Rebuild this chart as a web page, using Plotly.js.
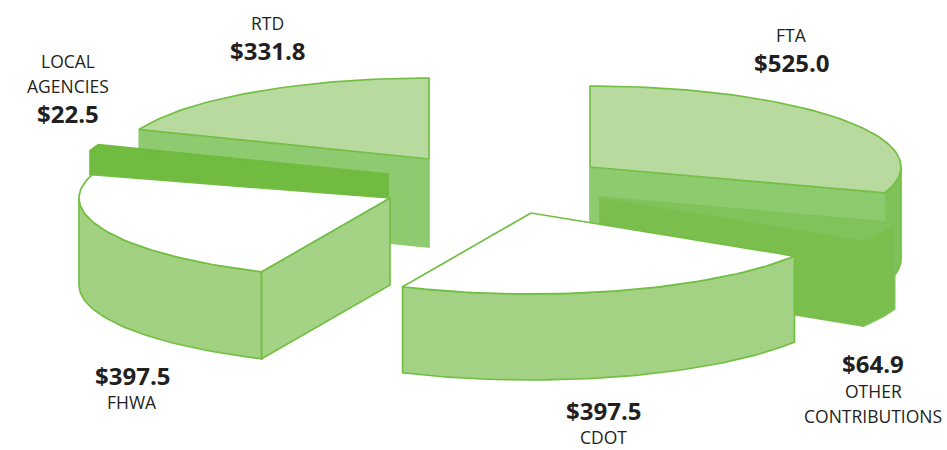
<!DOCTYPE html>
<html>
<head>
<meta charset="utf-8">
<script src="https://cdn.plot.ly/plotly-3.0.1.min.js"></script>
<style>html,body{margin:0;padding:0;background:#fff;overflow:hidden}#chart{width:947px;height:450px}</style>
</head>
<body>
<div id="chart"></div>
<script>
// Funding sources, in millions of dollars, clockwise from twelve o'clock.
const sources = ['FTA', 'OTHER CONTRIBUTIONS', 'CDOT', 'FHWA', 'LOCAL AGENCIES', 'RTD'];
const amounts = [525.0, 64.9, 397.5, 397.5, 22.5, 331.8];

// Exploded position of each wedge's point, and its extruded thickness.
const tipX = [590, 600, 531, 390, 388, 429];
const tipY = [167, 197, 213, 198, 174, 159];
const depth = [92, 86, 86, 87, 24, 88];

// Face colours for each wedge.
const topFill = ['#b9da9f', '#80c35a', '#ffffff', '#ffffff', '#70bb40', '#b9da9f'];
const rimFill = ['#7fc25a', '#7abe4e', '#a4d284', '#a2d182', '#70bb40', '#8bc96c'];
const cutFill = ['#8ccb6e', '#7abe4e', '#a4d284', '#a5d386', '#70bb40', '#8ecb70'];
const edgeColor = ['#72bf44', '#7fc259', '#72bf44', '#72bf44', '#70bb40', '#72bf44'];
const cutEdge = ['#8ccb6e', '#7abe4e', '#72bf44', '#72bf44', '#70bb40', '#8ecb70'];

// Tilted ellipse shared by every wedge.
const radiusX = 311, radiusY = 81;

// Labels: the wrapped name lines and where each line of text sits.
const nameLines = [['FTA'], ['OTHER', 'CONTRIBUTIONS'], ['CDOT'], ['FHWA'], ['LOCAL', 'AGENCIES'], ['RTD']];
const labelX = [791, 873, 603, 132, 68, 267];
const nameY = [[35], [391, 416], [437], [402], [61, 86], [23]];
const valueY = [62, 363, 410, 375, 113, 50];

const total = amounts.reduce((a, b) => a + b, 0);
const rad = d => d * Math.PI / 180;

function arcPoints(i, from, to) {
  const n = Math.max(2, Math.ceil(Math.abs(to - from) / 1.5));
  const xs = [], ys = [];
  for (let k = 0; k <= n; k++) {
    const a = rad(from + (to - from) * k / n);
    xs.push(tipX[i] + radiusX * Math.cos(a));
    ys.push(tipY[i] - radiusY * Math.sin(a));
  }
  return [xs, ys];
}

function face(name, xs, ys, fill, line) {
  return {
    type: 'scatter', mode: 'lines', name: name,
    x: xs.concat(xs[0]), y: ys.concat(ys[0]),
    fill: 'toself', fillcolor: fill,
    line: {color: line, width: 1.7, shape: 'linear'},
    hoverinfo: 'name', showlegend: false
  };
}

// Extruded faces of one wedge: the cut sides and rim the viewer can see, then the top.
function wedgeFaces(i, start, end) {
  const out = [];
  const label = sources[i] + ' $' + amounts[i].toFixed(1);
  const d = depth[i];
  [[start, -1], [end, 1]].forEach(([a, sign]) => {
    if (sign * Math.cos(rad(a)) <= 0.001) return;
    const ex = tipX[i] + radiusX * Math.cos(rad(a));
    const ey = tipY[i] - radiusY * Math.sin(rad(a));
    out.push(face(label, [tipX[i], ex, ex, tipX[i]],
      [tipY[i], ey, ey + d, tipY[i] + d], cutFill[i], cutEdge[i]));
  });
  const rimFrom = Math.min(start, 0), rimTo = Math.max(end, -180);
  if (rimFrom > rimTo) {
    const [ax, ay] = arcPoints(i, rimFrom, rimTo);
    out.unshift(face(label, ax.concat(ax.slice().reverse()),
      ay.concat(ay.slice().reverse().map(y => y + d)), rimFill[i], edgeColor[i]));
  }
  const [tx, ty] = arcPoints(i, start, end);
  out.push(face(label, [tipX[i]].concat(tx), [tipY[i]].concat(ty), topFill[i], edgeColor[i]));
  return out;
}

// Sweep angles follow the amounts, running clockwise from straight up.
const starts = [], ends = [];
let sweep = 90;
amounts.forEach(v => {
  starts.push(sweep);
  sweep -= v / total * 360;
  ends.push(sweep);
});

// Painted back to front so nearer wedges cover farther ones.
const paintOrder = [5, 0, 1, 4, 3, 2];
const traces = [];
paintOrder.forEach(i => traces.push(...wedgeFaces(i, starts[i], ends[i])));

const annotations = [];
const font = 'Open Sans, Noto Sans, sans-serif';
sources.forEach((_, i) => {
  nameLines[i].forEach((line, k) => annotations.push({
    x: labelX[i], y: nameY[i][k], xref: 'x', yref: 'y', text: line, showarrow: false,
    xanchor: 'center', yanchor: 'middle',
    font: {family: font, size: 17.5, color: '#231f20'}
  }));
  annotations.push({
    x: labelX[i], y: valueY[i], xref: 'x', yref: 'y',
    text: '<b>$' + amounts[i].toFixed(1) + '</b>', showarrow: false,
    xanchor: 'center', yanchor: 'middle',
    font: {family: font, size: 24, color: '#231f20'}
  });
});

const hidden = {visible: false, fixedrange: true, zeroline: false, showgrid: false};
Plotly.newPlot('chart', traces, {
  width: 947, height: 450,
  margin: {l: 0, r: 0, t: 0, b: 0},
  paper_bgcolor: '#ffffff', plot_bgcolor: '#ffffff',
  xaxis: Object.assign({range: [0, 947]}, hidden),
  yaxis: Object.assign({range: [450, 0]}, hidden),
  annotations: annotations,
  showlegend: false
}, {displayModeBar: false});
</script>
</body>
</html>
